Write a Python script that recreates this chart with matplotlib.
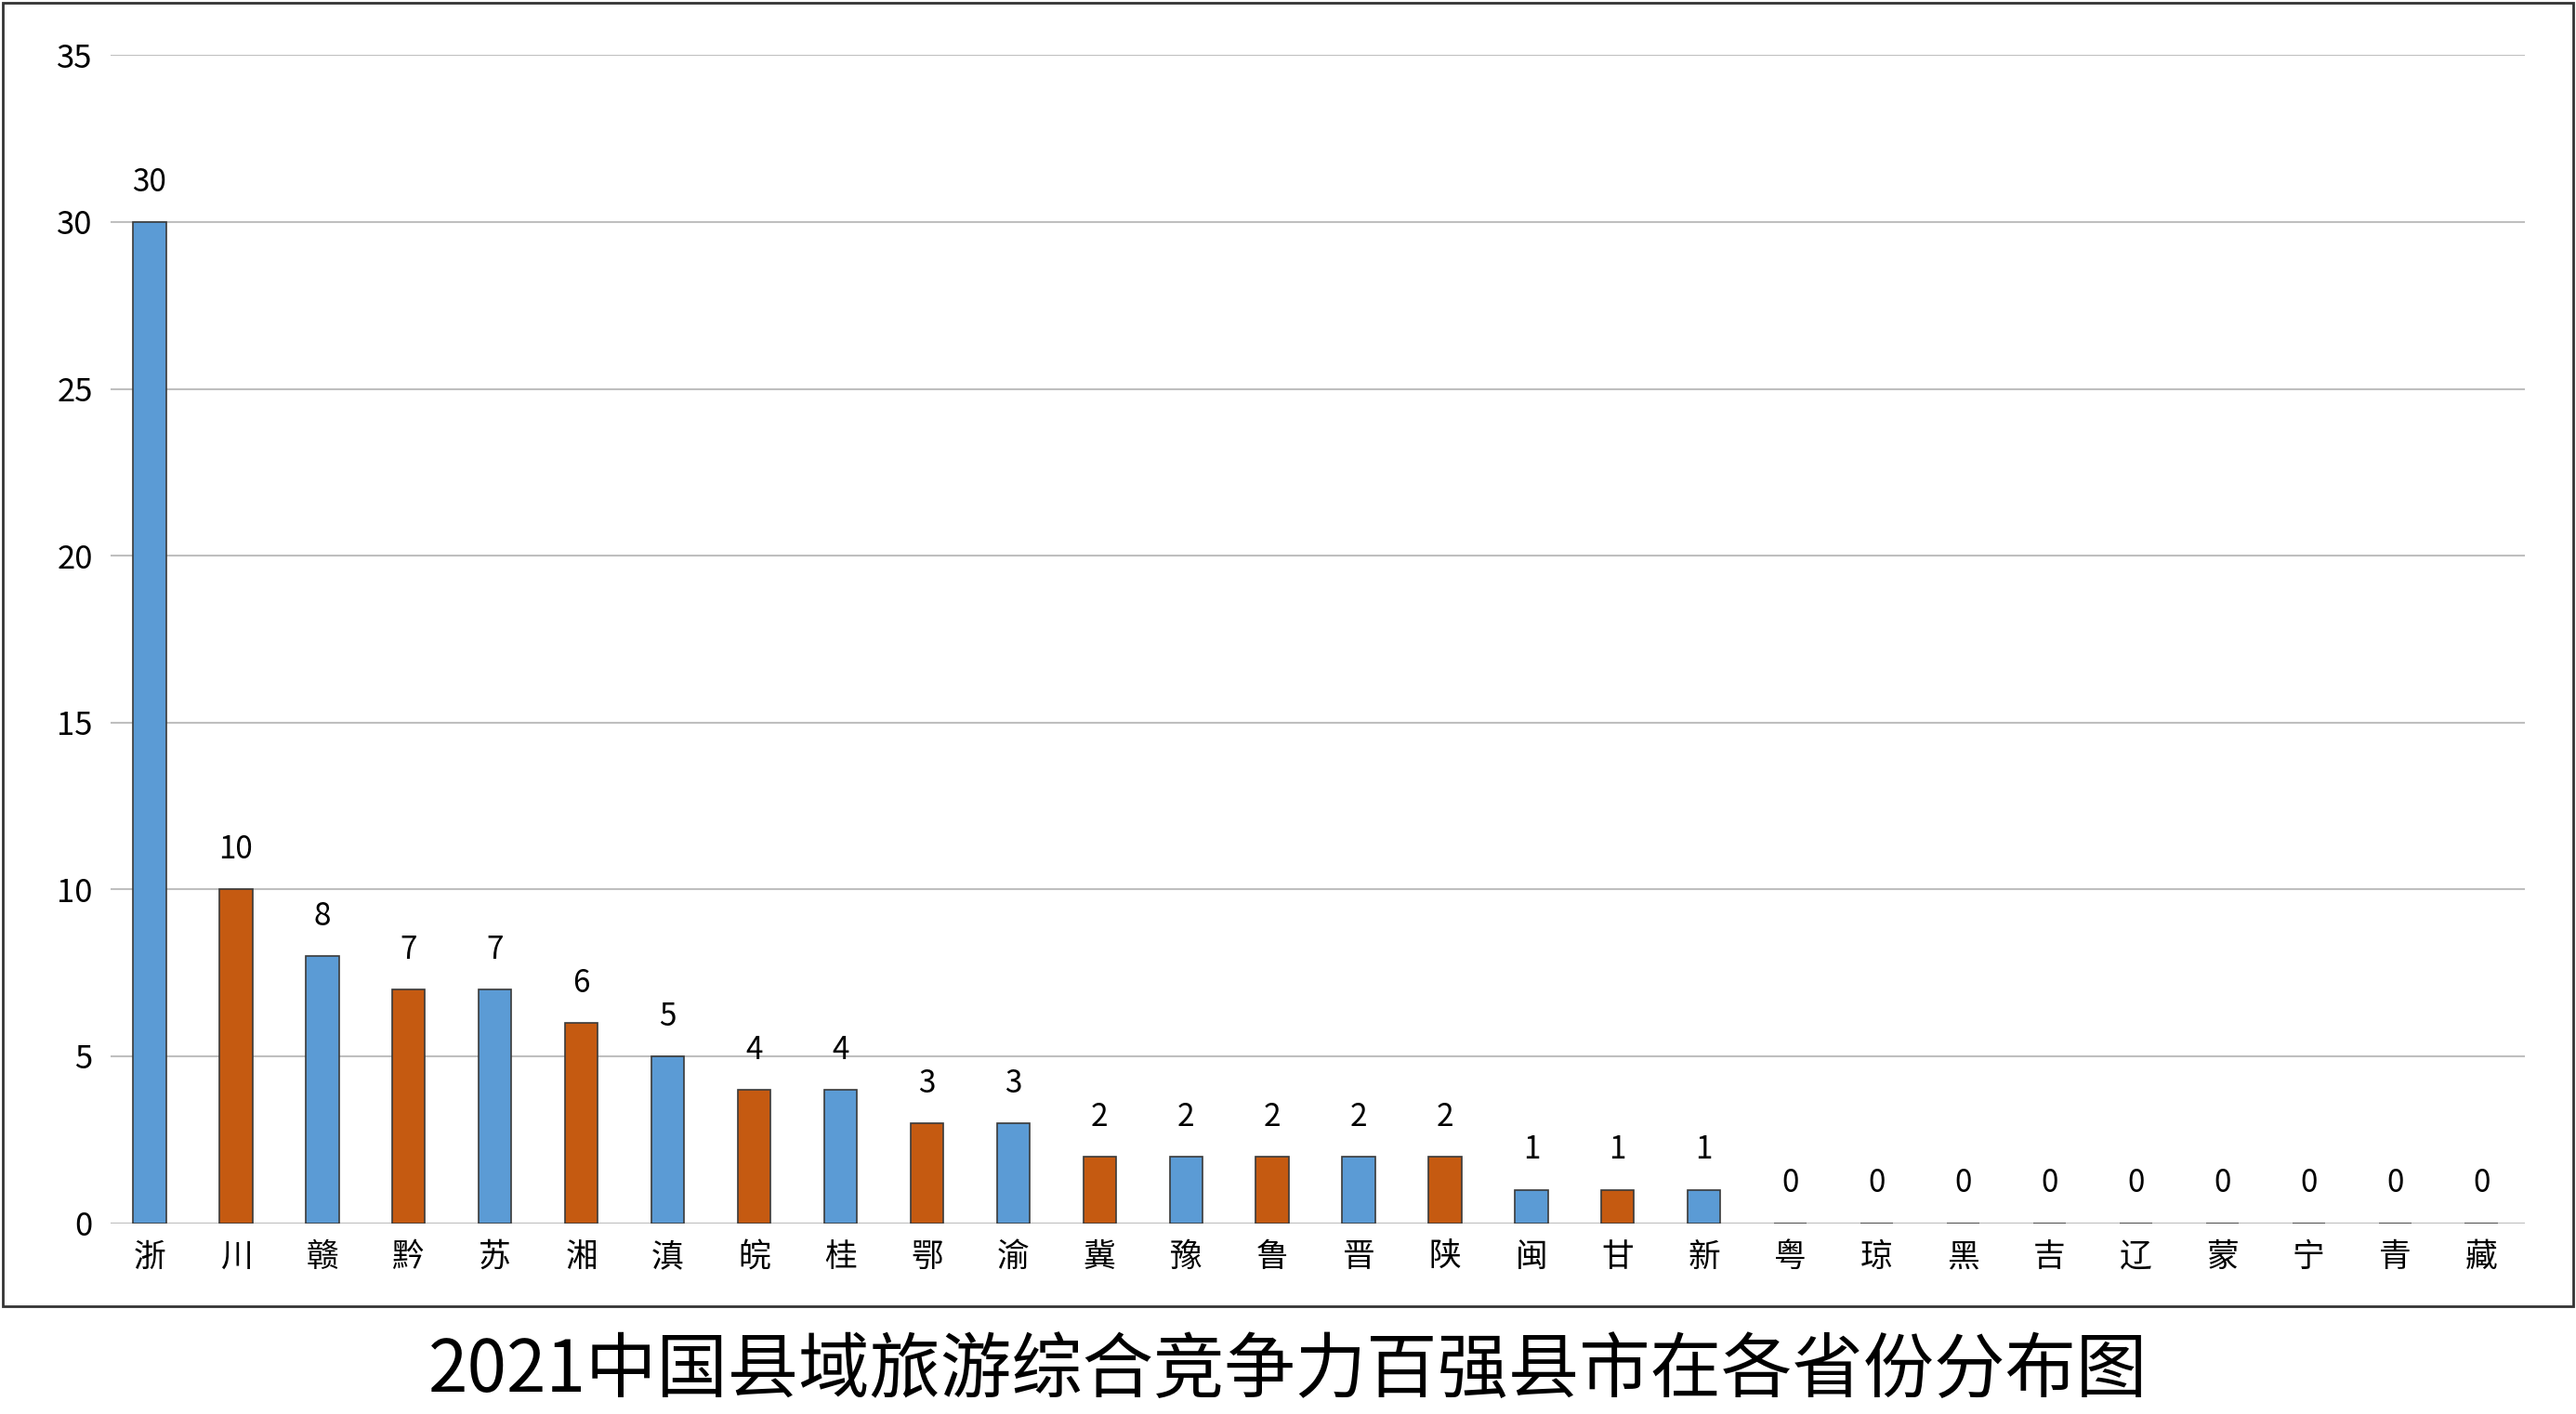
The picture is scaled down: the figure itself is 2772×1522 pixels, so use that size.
import matplotlib.pyplot as plt
from matplotlib.patches import Rectangle

provinces = ["浙", "川", "赣", "黔", "苏", "湘", "滇", "皖", "桂", "鄂", "渝", "冀", "豫", "鲁",
             "晋", "陕", "闽", "甘", "新", "粤", "琼", "黑", "吉", "辽", "蒙", "宁", "青", "藏"]
counts = [30, 10, 8, 7, 7, 6, 5, 4, 4, 3, 3, 2, 2, 2, 2, 2, 1, 1, 1, 0, 0, 0, 0, 0, 0, 0, 0, 0]

plt.rcParams["font.family"] = ["Noto Sans CJK SC", "DejaVu Sans"]

fig = plt.figure(figsize=(27.72, 15.22), dpi=100)
ax = fig.add_axes([0.043, 0.135, 0.937, 0.826])

colors = ["#5B9BD5" if i % 2 == 0 else "#C55A11" for i in range(len(counts))]
x = range(len(counts))
ax.bar(x, counts, width=0.38, color=colors, edgecolor="#3a3a3a", linewidth=1.2, zorder=3)
for xi, v in zip(x, counts):
    ax.text(xi, v + 0.7, str(v), ha="center", va="bottom", fontsize=24)

ax.set_ylim(0, 35)
ax.set_xlim(-0.45, len(counts) - 0.5)
ax.set_yticks(range(0, 36, 5))
ax.set_xticks(list(x))
ax.set_xticklabels(provinces)
ax.tick_params(axis="both", length=0, labelsize=25, pad=14)
ax.grid(axis="y", color="#bfbfbf", linewidth=1.5, zorder=0)
for s in ax.spines.values():
    s.set_visible(False)
ax.axhline(0, color="#bfbfbf", linewidth=1.5, zorder=1)

# outer frame of the chart area
fig.patches.append(Rectangle((0.001, 0.076), 0.998, 0.922, transform=fig.transFigure,
                             fill=False, edgecolor="#333333", linewidth=2))

fig.text(0.5, 0.03, "2021中国县域旅游综合竞争力百强县市在各省份分布图", ha="center",
         va="center", fontsize=55)

fig.savefig("out.png", dpi=100)
